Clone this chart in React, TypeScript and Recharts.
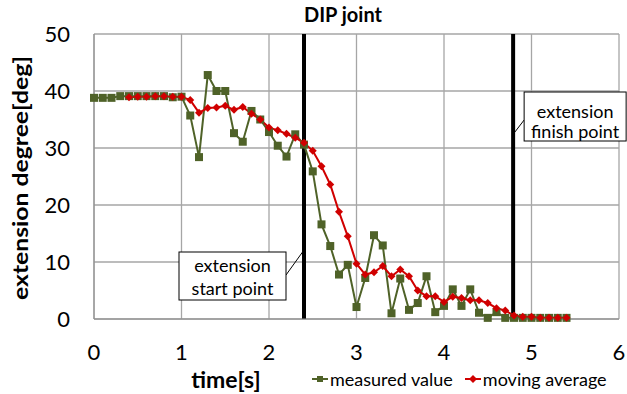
import React from "react";
import {
  LineChart, Line, XAxis, YAxis, CartesianGrid, ReferenceLine, Legend, Customized,
} from "recharts";

// --- data ---
const times = [
  0, 0.1, 0.2, 0.3, 0.4, 0.5, 0.6, 0.7, 0.8, 0.9,
  1.0, 1.1, 1.2, 1.3, 1.4, 1.5, 1.6, 1.7, 1.8, 1.9,
  2.0, 2.1, 2.2, 2.3, 2.4, 2.5, 2.6, 2.7, 2.8, 2.9,
  3.0, 3.1, 3.2, 3.3, 3.4, 3.5, 3.6, 3.7, 3.8, 3.9,
  4.0, 4.1, 4.2, 4.3, 4.4, 4.5, 4.6, 4.7, 4.8, 4.9,
  5.0, 5.1, 5.2, 5.3, 5.4,
];

const measured = [
  38.8, 38.8, 38.8, 39.1, 39.1, 39.1, 39.1, 39.1, 39.1, 38.9,
  39.0, 35.7, 28.4, 42.8, 40.0, 40.0, 32.6, 31.1, 36.5, 35.0,
  32.8, 30.4, 28.5, 32.4, 30.6, 25.9, 16.6, 12.8, 7.8, 9.5,
  2.1, 7.2, 14.7, 12.9, 1.0, 7.1, 1.6, 2.8, 7.5, 1.2,
  2.3, 5.2, 2.3, 5.2, 1.1, 0.2, 1.2, 0.2, 0.2, 0.2,
  0.2, 0.2, 0.2, 0.2, 0.2,
];

// moving average starts at t = 0.4
const movingAvg = [
  null, null, null, null, 38.9, 39.0, 39.0, 39.1, 39.1, 39.0,
  39.0, 38.4, 36.2, 37.0, 37.1, 37.4, 36.7, 37.2, 36.0, 35.0,
  33.6, 33.1, 32.5, 31.8, 30.9, 29.5, 26.8, 23.6, 18.8, 14.5,
  9.7, 7.8, 8.2, 9.3, 7.5, 8.7, 7.5, 5.0, 4.0, 4.0,
  3.0, 3.9, 3.7, 3.3, 3.3, 2.8, 1.9, 1.5, 0.6, 0.4,
  0.4, 0.2, 0.2, 0.2, 0.2,
];

const xTicks = [0, 1, 2, 3, 4, 5, 6];
const yTicks = [0, 10, 20, 30, 40, 50];
const startTime = 2.4;
const finishTime = 4.79;

const data = times.map((t, i) => ({ t, measured: measured[i], avg: movingAvg[i] }));

const FONT = "Lato, 'Liberation Sans', sans-serif";
const GREEN = "#4f6228";
const RED = "#d00000";

function Square(props: any) {
  const { cx, cy } = props;
  if (cx == null || cy == null) return null;
  return <rect x={cx - 4} y={cy - 4} width={8} height={8} fill={GREEN} />;
}

function Diamond(props: any) {
  const { cx, cy } = props;
  if (cx == null || cy == null) return null;
  return <polygon points={`${cx},${cy - 4} ${cx + 4},${cy} ${cx},${cy + 4} ${cx - 4},${cy}`} fill={RED} />;
}

function StartCallout(props: any) {
  const { viewBox } = props;
  const x = viewBox.x;
  return (
    <g>
      <line x1={x - 18} y1={275} x2={x} y2={250} stroke="#000" strokeWidth={1} />
      <rect x={x - 125} y={252} width={107} height={48} fill="#fff" stroke="#000" strokeWidth={1} />
      <text x={x - 71.5} y={272} textAnchor="middle" fontFamily={FONT} fontSize={18} fill="#000">extension</text>
      <text x={x - 71.5} y={295} textAnchor="middle" fontFamily={FONT} fontSize={18} fill="#000">start point</text>
    </g>
  );
}

function FinishCallout(props: any) {
  const { viewBox } = props;
  const x = viewBox.x;
  return (
    <g>
      <line x1={x + 11} y1={120} x2={x + 1} y2={133} stroke="#000" strokeWidth={1} />
      <rect x={x + 11} y={92} width={102} height={49} fill="#fff" stroke="#000" strokeWidth={1} />
      <text x={x + 62} y={118} textAnchor="middle" fontFamily={FONT} fontSize={18} fill="#000">extension</text>
      <text x={x + 62} y={138} textAnchor="middle" fontFamily={FONT} fontSize={18} fill="#000">finish point</text>
    </g>
  );
}

function Texts() {
  return (
    <g fontFamily={FONT} fontWeight="bold" fill="#000">
      <text x={343} y={22} textAnchor="middle" fontSize={20}>DIP joint</text>
      <text x={226} y={388} textAnchor="middle" fontSize={23}>time[s]</text>
      <text
        x={0} y={0} transform="translate(28,178) rotate(-90)" textAnchor="middle" fontSize={21}
        textLength={244} lengthAdjust="spacingAndGlyphs"
      >
        extension degree[deg]
      </text>
    </g>
  );
}

function LegendContent() {
  const item = (color: string, label: string, shape: "sq" | "dia") => (
    <span style={{ display: "inline-flex", alignItems: "center", marginRight: 12 }}>
      <svg width={16} height={10} style={{ marginRight: 2 }}>
        <line x1={0} y1={5} x2={16} y2={5} stroke={color} strokeWidth={2} />
        {shape === "sq"
          ? <rect x={5} y={2} width={6} height={6} fill={color} />
          : <polygon points="8,1 12,5 8,9 4,5" fill={color} />}
      </svg>
      {label}
    </span>
  );
  return (
    <div style={{ fontFamily: FONT, fontSize: 18, color: "#000", whiteSpace: "nowrap" }}>
      {item(GREEN, "measured value", "sq")}
      {item(RED, "moving average", "dia")}
    </div>
  );
}

export default function App() {
  return (
    <div style={{ width: 627, height: 394, position: "relative" }}>
      <style>{`body{margin:0;}`}</style>
      <LineChart width={627} height={394} data={data} margin={{ top: 34, right: 8, bottom: 30, left: 0 }}>
        <CartesianGrid stroke="#a6a6a6" strokeWidth={1.3} />
        <XAxis
          dataKey="t" type="number" domain={[0, 6]} ticks={xTicks} height={45}
          tickLine={false} tickSize={0} tickMargin={25} axisLine={{ stroke: "#8a8a8a" }}
          tick={{ fontFamily: FONT, fontSize: 22, fill: "#000" }}
        />
        <YAxis
          type="number" domain={[0, 50]} ticks={yTicks} width={94}
          tickLine={false} tickSize={0} tickMargin={24} axisLine={{ stroke: "#8a8a8a" }}
          tick={{ fontFamily: FONT, fontSize: 22, fill: "#000" }}
        />
        <ReferenceLine x={startTime} stroke="#000" strokeWidth={4} label={<StartCallout />} />
        <ReferenceLine x={finishTime} stroke="#000" strokeWidth={4} label={<FinishCallout />} />
        <Line
          dataKey="measured" name="measured value" stroke={GREEN} strokeWidth={2}
          dot={<Square />} activeDot={false} isAnimationActive={false}
        />
        <Line
          dataKey="avg" name="moving average" stroke={RED} strokeWidth={2}
          dot={<Diamond />} activeDot={false} isAnimationActive={false} connectNulls={false}
        />
        <Legend
          layout="horizontal" verticalAlign="middle" align="center"
          content={<LegendContent />}
          wrapperStyle={{ position: "absolute", top: 366, left: 312, width: 320 }}
        />
        <Customized component={Texts} />
      </LineChart>
    </div>
  );
}
